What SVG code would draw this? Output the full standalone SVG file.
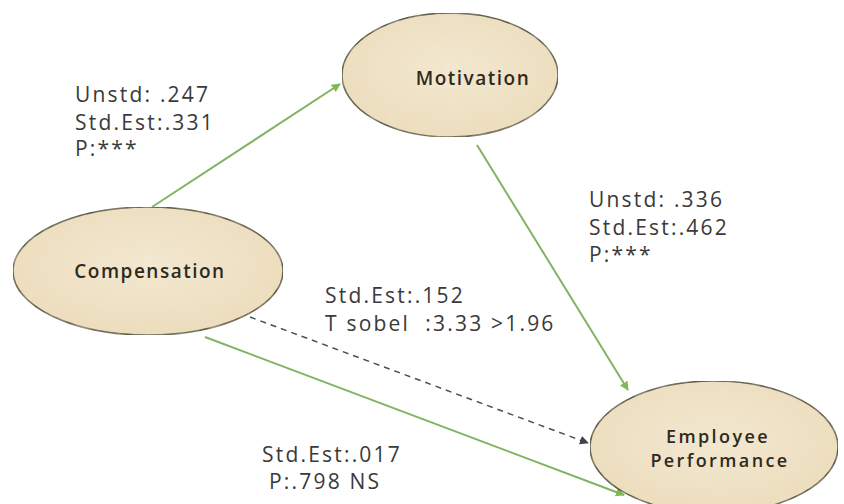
<svg xmlns="http://www.w3.org/2000/svg" width="844" height="504" viewBox="0 0 844 504">
  <defs>
    <radialGradient id="tan" cx="50%" cy="45%" r="60%">
      <stop offset="0" stop-color="#f3e8d1"/>
      <stop offset="1" stop-color="#ecdcbb"/>
    </radialGradient>
    <!-- light parchment grain over the node fills -->
    <filter id="grain" x="0" y="0" width="100%" height="100%">
      <feTurbulence type="fractalNoise" baseFrequency="0.09" numOctaves="2" seed="4" result="n"/>
      <feColorMatrix in="n" type="matrix" values="0 0 0 0 0.86  0 0 0 0 0.77  0 0 0 0 0.58  0.6 0 0 0 -0.22" result="c"/>
      <feComposite in="c" in2="SourceGraphic" operator="in" result="t"/>
      <feMerge><feMergeNode in="SourceGraphic"/><feMergeNode in="t"/></feMerge>
    </filter>
    <marker id="arrG" viewBox="0 0 10 10" refX="9" refY="5" markerWidth="9" markerHeight="9" orient="auto" markerUnits="userSpaceOnUse">
      <path d="M0,0 L10,5 L0,10 z" fill="#7dba52"/>
    </marker>
    <marker id="arrD" viewBox="0 0 10 10" refX="9" refY="5" markerWidth="9" markerHeight="9" orient="auto" markerUnits="userSpaceOnUse">
      <path d="M0,0 L10,5 L0,10 z" fill="#3d4450"/>
    </marker>
  </defs>
  <style>
    .node ellipse { fill: url(#tan); stroke: #5d5c48; stroke-width: 1.5; filter: url(#grain); }
    .node text { font-family: "Open Sans", "Liberation Sans", sans-serif; font-size: 19px; font-weight: 600; letter-spacing: 1.5px; fill: #2f2a1e; text-anchor: middle; }
    .node text.two { font-size: 18px; letter-spacing: 2.4px; }
    .lbl { font-family: "Open Sans", "Liberation Sans", sans-serif; font-size: 21px; letter-spacing: 2.2px; fill: #3a3a3a; }
    .edge { fill: none; stroke: #80b462; stroke-width: 2; }
    .dash { fill: none; stroke: #4a505a; stroke-width: 1.5; stroke-dasharray: 6 5; }
  </style>
  <rect width="844" height="504" fill="#ffffff"/>

  <g id="connectors">
    <line class="edge" x1="152" y1="207" x2="340" y2="84" marker-end="url(#arrG)"/>
    <line class="edge" x1="477" y1="145" x2="628" y2="390" marker-end="url(#arrG)"/>
    <line class="dash" x1="250" y1="317" x2="588" y2="443" marker-end="url(#arrD)"/>
    <line class="edge" x1="205" y1="337" x2="624" y2="495" marker-end="url(#arrG)"/>
  </g>

  <g id="motivation" class="node">
    <ellipse cx="450" cy="75" rx="108" ry="62"/>
    <text x="473" y="85">Motivation</text>
  </g>
  <g id="compensation" class="node">
    <ellipse cx="148" cy="271" rx="135" ry="64"/>
    <text x="150" y="278">Compensation</text>
  </g>
  <g id="employee-performance" class="node">
    <ellipse cx="714" cy="447" rx="124" ry="66"/>
    <text class="two" x="718" y="443">Employee</text>
    <text class="two" x="720" y="467">Performance</text>
  </g>

  <g id="labels">
    <text class="lbl" x="75" y="102">Unstd: .247</text>
    <text class="lbl" x="75" y="130">Std.Est:.331</text>
    <text class="lbl" x="75" y="156">P:***</text>
    <text class="lbl" x="589" y="207">Unstd: .336</text>
    <text class="lbl" x="589" y="235">Std.Est:.462</text>
    <text class="lbl" x="589" y="262">P:***</text>
    <text class="lbl" x="325" y="303">Std.Est:.152</text>
    <text class="lbl" x="325" y="331" xml:space="preserve">T sobel  :3.33 &gt;1.96</text>
    <text class="lbl" x="262" y="462">Std.Est:.017</text>
    <text class="lbl" x="269" y="489">P:.798 NS</text>
  </g>
</svg>
